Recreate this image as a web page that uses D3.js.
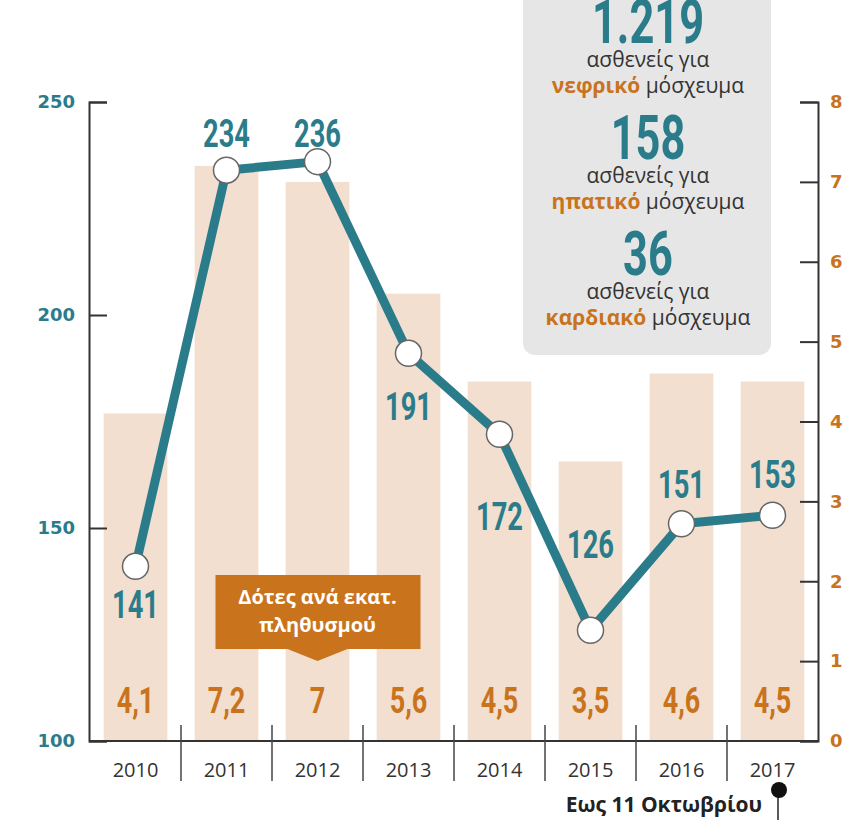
<!DOCTYPE html>
<html lang="el">
<head>
<meta charset="UTF-8">
<title>Δότες οργάνων</title>
<script src="https://d3js.org/d3.v7.min.js"></script>
<style>
  body { margin: 0; background: #fff; }
  svg { display: block; }
  .num { font-family: Roboto, "DejaVu Sans", sans-serif; font-weight: 700; }
</style>
</head>
<body>
<svg id="chart" width="847" height="820"></svg>
<script>
// data
const years = ['2010', '2011', '2012', '2013', '2014', '2015', '2016', '2017'];
const donors = [141, 234, 236, 191, 172, 126, 151, 153];
const perMillion = [4.1, 7.2, 7, 5.6, 4.5, 3.5, 4.6, 4.5];
const leftTicks = [100, 150, 200, 250];
const rightTicks = [0, 1, 2, 3, 4, 5, 6, 7, 8];
const waiting = [
  { n: '1.219', kind: 'νεφρικό' },
  { n: '158', kind: 'ηπατικό' },
  { n: '36', kind: 'καρδιακό' }
];

// layout: baseline offset of each donor label from its point
const labelDy = [52, -23, -15, 67, 96, -72, -26, -27];

const teal = '#2b7c8a';
const orange = '#c9731d';
const barFill = '#f2dfd0';

const svg = d3.select('#chart');

const x = d3.scaleBand().domain(years).range([90, 818]).paddingInner(0.3).paddingOuter(0.15);
const yL = d3.scaleLinear().domain([100, 250]).range([741, 102]);
const yR = d3.scaleLinear().domain([0, 8]).range([741, 102]);

// condensed number text (no narrow font installed, so squeeze it)
function condensed(parent, tx, ty, txt, size, color, sx) {
  parent.append('g')
    .attr('transform', `translate(${tx},${ty}) scale(${sx},1)`)
    .append('text').attr('class', 'num')
    .attr('text-anchor', 'middle')
    .attr('font-size', size)
    .attr('fill', color)
    .text(txt);
}

// info box top right
const box = svg.append('g');
box.append('rect')
  .attr('x', 523).attr('y', -20).attr('width', 248).attr('height', 375)
  .attr('rx', 12).attr('fill', '#e6e6e6');
waiting.forEach((w, i) => {
  const top = i * 116;
  condensed(box, 648, top + 43, w.n, 62, teal, 0.7);
  box.append('text')
    .attr('x', 648).attr('y', top + 67)
    .attr('text-anchor', 'middle').attr('font-size', 21)
    .attr('font-family', 'Open Sans, sans-serif').attr('fill', '#333')
    .text('ασθενείς για');
  const t = box.append('text')
    .attr('x', 648).attr('y', top + 93)
    .attr('text-anchor', 'middle').attr('font-size', 21)
    .attr('font-family', 'Open Sans, sans-serif').attr('fill', '#333');
  t.append('tspan').attr('font-weight', 'bold').attr('fill', orange).text(w.kind);
  t.append('tspan').text(' μόσχευμα');
});

// bars
svg.append('g').selectAll('rect')
  .data(years)
  .join('rect')
  .attr('x', d => x(d))
  .attr('width', x.bandwidth())
  .attr('y', (d, i) => yR(perMillion[i]))
  .attr('height', (d, i) => yR(0) - yR(perMillion[i]))
  .attr('fill', barFill);

// bar values
const barLabels = svg.append('g');
years.forEach((d, i) => {
  condensed(barLabels, x(d) + x.bandwidth() / 2, 713,
    String(perMillion[i]).replace('.', ','), 36, orange, 0.75);
});

// left axis
const axL = svg.append('g')
  .attr('transform', 'translate(89,0)')
  .call(d3.axisLeft(yL).tickValues(leftTicks).tickSize(-18).tickPadding(14));
axL.selectAll('text')
  .attr('font-family', 'DejaVu Sans, sans-serif').attr('font-weight', 'bold')
  .attr('font-size', 18).attr('fill', teal);

// right axis
const axR = svg.append('g')
  .attr('transform', 'translate(818,0)')
  .call(d3.axisRight(yR).tickValues(rightTicks).tickSize(-18).tickPadding(12));
axR.selectAll('text')
  .attr('font-family', 'DejaVu Sans, sans-serif').attr('font-weight', 'bold')
  .attr('font-size', 18).attr('fill', orange);

[axL, axR].forEach(a => {
  a.selectAll('path, line').attr('stroke', '#333').attr('stroke-width', 2);
});

// bottom axis
const axB = svg.append('g');
axB.append('line')
  .attr('x1', 89).attr('x2', 819).attr('y1', 741).attr('y2', 741)
  .attr('stroke', '#333').attr('stroke-width', 2);
const gap = x.step() - x.bandwidth();
axB.selectAll('line.sep')
  .data(years.slice(1))
  .join('line')
  .attr('class', 'sep')
  .attr('x1', d => x(d) - gap / 2).attr('x2', d => x(d) - gap / 2)
  .attr('y1', 725).attr('y2', 781)
  .attr('stroke', '#444').attr('stroke-width', 1.5);
axB.selectAll('text')
  .data(years)
  .join('text')
  .attr('x', d => x(d) + x.bandwidth() / 2)
  .attr('y', 777)
  .attr('text-anchor', 'middle')
  .attr('font-family', 'Open Sans, sans-serif')
  .attr('font-size', 20)
  .attr('fill', '#333')
  .text(d => d);

// callout
const cx = x('2012') + x.bandwidth() / 2;
svg.append('path')
  .attr('d', `M${cx - 102},575 H${cx + 103} V649 H${cx + 30} L${cx},661 L${cx - 30},649 H${cx - 102} Z`)
  .attr('fill', orange);
svg.append('text')
  .attr('x', cx).attr('y', 604)
  .attr('text-anchor', 'middle').attr('font-family', 'Open Sans, sans-serif')
  .attr('font-weight', 'bold').attr('font-size', 20).attr('fill', '#fff')
  .text('Δότες ανά εκατ.');
svg.append('text')
  .attr('x', cx).attr('y', 632)
  .attr('text-anchor', 'middle').attr('font-family', 'Open Sans, sans-serif')
  .attr('font-weight', 'bold').attr('font-size', 20).attr('fill', '#fff')
  .text('πληθυσμού');

// line
const px = d => x(d) + x.bandwidth() / 2;
const line = d3.line().x(d => px(d)).y((d, i) => yL(donors[i]));
svg.append('path')
  .datum(years)
  .attr('d', line)
  .attr('fill', 'none')
  .attr('stroke', teal)
  .attr('stroke-width', 9)
  .attr('stroke-linejoin', 'round');

svg.append('g').selectAll('circle')
  .data(years)
  .join('circle')
  .attr('cx', d => px(d))
  .attr('cy', (d, i) => yL(donors[i]))
  .attr('r', 13)
  .attr('fill', '#fff')
  .attr('stroke', '#666')
  .attr('stroke-width', 1.5);

const donorLabels = svg.append('g');
years.forEach((d, i) => {
  condensed(donorLabels, px(d), yL(donors[i]) + labelDy[i], donors[i], 39, teal, 0.7);
});

// footnote
svg.append('text')
  .attr('x', 762).attr('y', 812)
  .attr('text-anchor', 'end')
  .attr('font-family', 'Open Sans, sans-serif')
  .attr('font-weight', 'bold').attr('font-size', 21).attr('fill', '#222')
  .text('Εως 11 Οκτωβρίου');
svg.append('line')
  .attr('x1', 778).attr('x2', 778).attr('y1', 790).attr('y2', 820)
  .attr('stroke', '#222').attr('stroke-width', 1.5);
svg.append('circle')
  .attr('cx', 779).attr('cy', 790).attr('r', 8).attr('fill', '#111');
</script>
</body>
</html>
